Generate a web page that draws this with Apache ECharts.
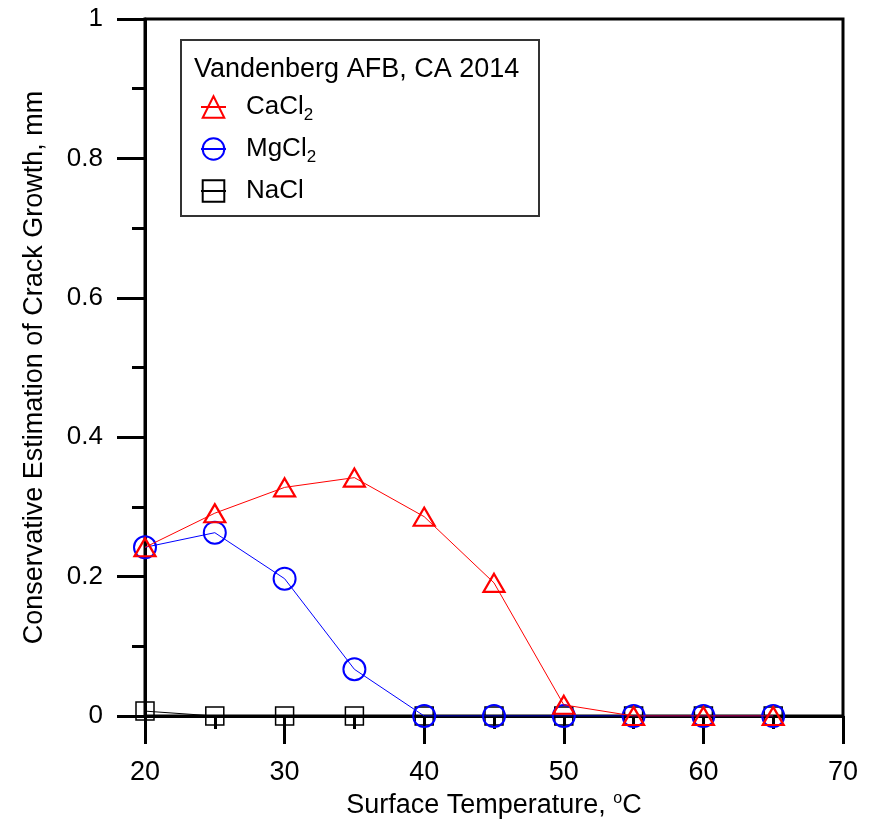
<!DOCTYPE html>
<html>
<head>
<meta charset="utf-8">
<script src="https://cdn.jsdelivr.net/npm/echarts@6/dist/echarts.min.js"></script>
<style>
html,body{margin:0;padding:0;background:#fff;}
#chart{width:871px;height:819px;}
</style>
</head>
<body>
<div id="chart"></div>
<script>
const temps = [20, 25, 30, 35, 40, 45, 50, 55, 60, 65];
const caCl2 = [0.242, 0.291, 0.328, 0.342, 0.286, 0.191, 0.016, 0, 0, 0];
const mgCl2 = [0.242, 0.263, 0.197, 0.067, 0, 0, 0, 0, 0, 0];
const naCl  = [0.007, 0, 0, 0, 0, 0, 0, 0, 0, 0];
const seriesNames = ['CaCl2', 'MgCl2', 'NaCl'];
const legendTitle = 'Vandenberg AFB, CA 2014';
const xName = 'Surface Temperature, {sup|o}C';
const yName = 'Conservative Estimation of Crack Growth, mm';

const FONT = '"Liberation Sans", Arial, sans-serif';
const pairs = arr => temps.map((t, i) => [t, arr[i]]);

const chart = echarts.init(document.getElementById('chart'), null, {renderer: 'canvas'});
chart.setOption({
  animation: false,
  backgroundColor: '#fff',
  textStyle: {fontFamily: FONT},
  title: {
    text: legendTitle,
    left: 194, top: 56,
    padding: 0,
    textStyle: {fontFamily: FONT, fontSize: 27, fontWeight: 'normal', color: '#000'}
  },
  graphic: [{
    type: 'rect',
    shape: {x: 181, y: 40, width: 358, height: 176},
    style: {fill: 'none', stroke: '#333', lineWidth: 2},
    z: 10
  }],
  legend: {
    orient: 'vertical',
    left: 200, top: 90,
    padding: 0,
    itemWidth: 25, itemHeight: 27, itemGap: 8,
    data: seriesNames,
    formatter: function (name) {
      if (name.endsWith('2')) return name.slice(0, -1) + '{sub|2}';
      return name;
    },
    textStyle: {
      fontFamily: FONT, fontSize: 26, color: '#000', padding: [0, 0, 0, 15],
      lineHeight: 34,
      rich: {sub: {fontFamily: FONT, fontSize: 17, color: '#000', verticalAlign: 'bottom', lineHeight: 15}}
    }
  },
  grid: {
    left: 145, right: 28, top: 19, bottom: 103,
    outerBoundsMode: 'none',
    containLabel: false,
    show: true, borderColor: '#000', borderWidth: 3, backgroundColor: 'transparent'
  },
  xAxis: {
    type: 'value', min: 20, max: 70, interval: 10,
    name: xName, nameLocation: 'middle', nameGap: 73,
    nameTextStyle: {
      fontFamily: FONT, fontSize: 27, color: '#000',
      rich: {sup: {fontFamily: FONT, fontSize: 16, color: '#000', verticalAlign: 'top', lineHeight: 30}}
    },
    axisLine: {show: true, onZero: false, lineStyle: {color: '#000', width: 3}},
    axisTick: {show: true, inside: false, length: 28, lineStyle: {color: '#000', width: 3}},
    minorTick: {show: true, splitNumber: 2, length: 13, lineStyle: {color: '#000', width: 3}},
    axisLabel: {margin: 43, fontFamily: FONT, fontSize: 27, color: '#000'},
    splitLine: {show: false}
  },
  yAxis: {
    type: 'value', min: 0, max: 1, interval: 0.2,
    name: yName, nameLocation: 'middle', nameGap: 97, nameRotate: 90,
    nameTextStyle: {fontFamily: FONT, fontSize: 27, color: '#000'},
    axisLine: {show: true, onZero: false, lineStyle: {color: '#000', width: 3}},
    axisTick: {show: true, inside: false, length: 28, lineStyle: {color: '#000', width: 3}},
    minorTick: {show: true, splitNumber: 2, length: 13, lineStyle: {color: '#000', width: 3}},
    axisLabel: {margin: 42, fontFamily: FONT, fontSize: 26, color: '#000'},
    splitLine: {show: false}
  },
  series: [
    {
      name: 'NaCl', type: 'line', data: pairs(naCl),
      symbol: 'rect', symbolSize: 18,
      lineStyle: {color: '#000', width: 1},
      itemStyle: {color: 'rgba(255,255,255,0)', borderColor: '#000', borderWidth: 1.5},
      z: 3
    },
    {
      name: 'MgCl2', type: 'line', data: pairs(mgCl2),
      symbol: 'circle', symbolSize: 22,
      lineStyle: {color: '#0000ff', width: 1},
      itemStyle: {color: 'rgba(255,255,255,0)', borderColor: '#0000ff', borderWidth: 2},
      z: 4
    },
    {
      name: 'CaCl2', type: 'line', data: pairs(caCl2),
      symbol: 'triangle', symbolSize: [21, 18],
      lineStyle: {color: '#ff0000', width: 1},
      itemStyle: {color: 'rgba(255,255,255,0)', borderColor: '#ff0000', borderWidth: 2.2},
      z: 5
    }
  ]
});
</script>
</body>
</html>
